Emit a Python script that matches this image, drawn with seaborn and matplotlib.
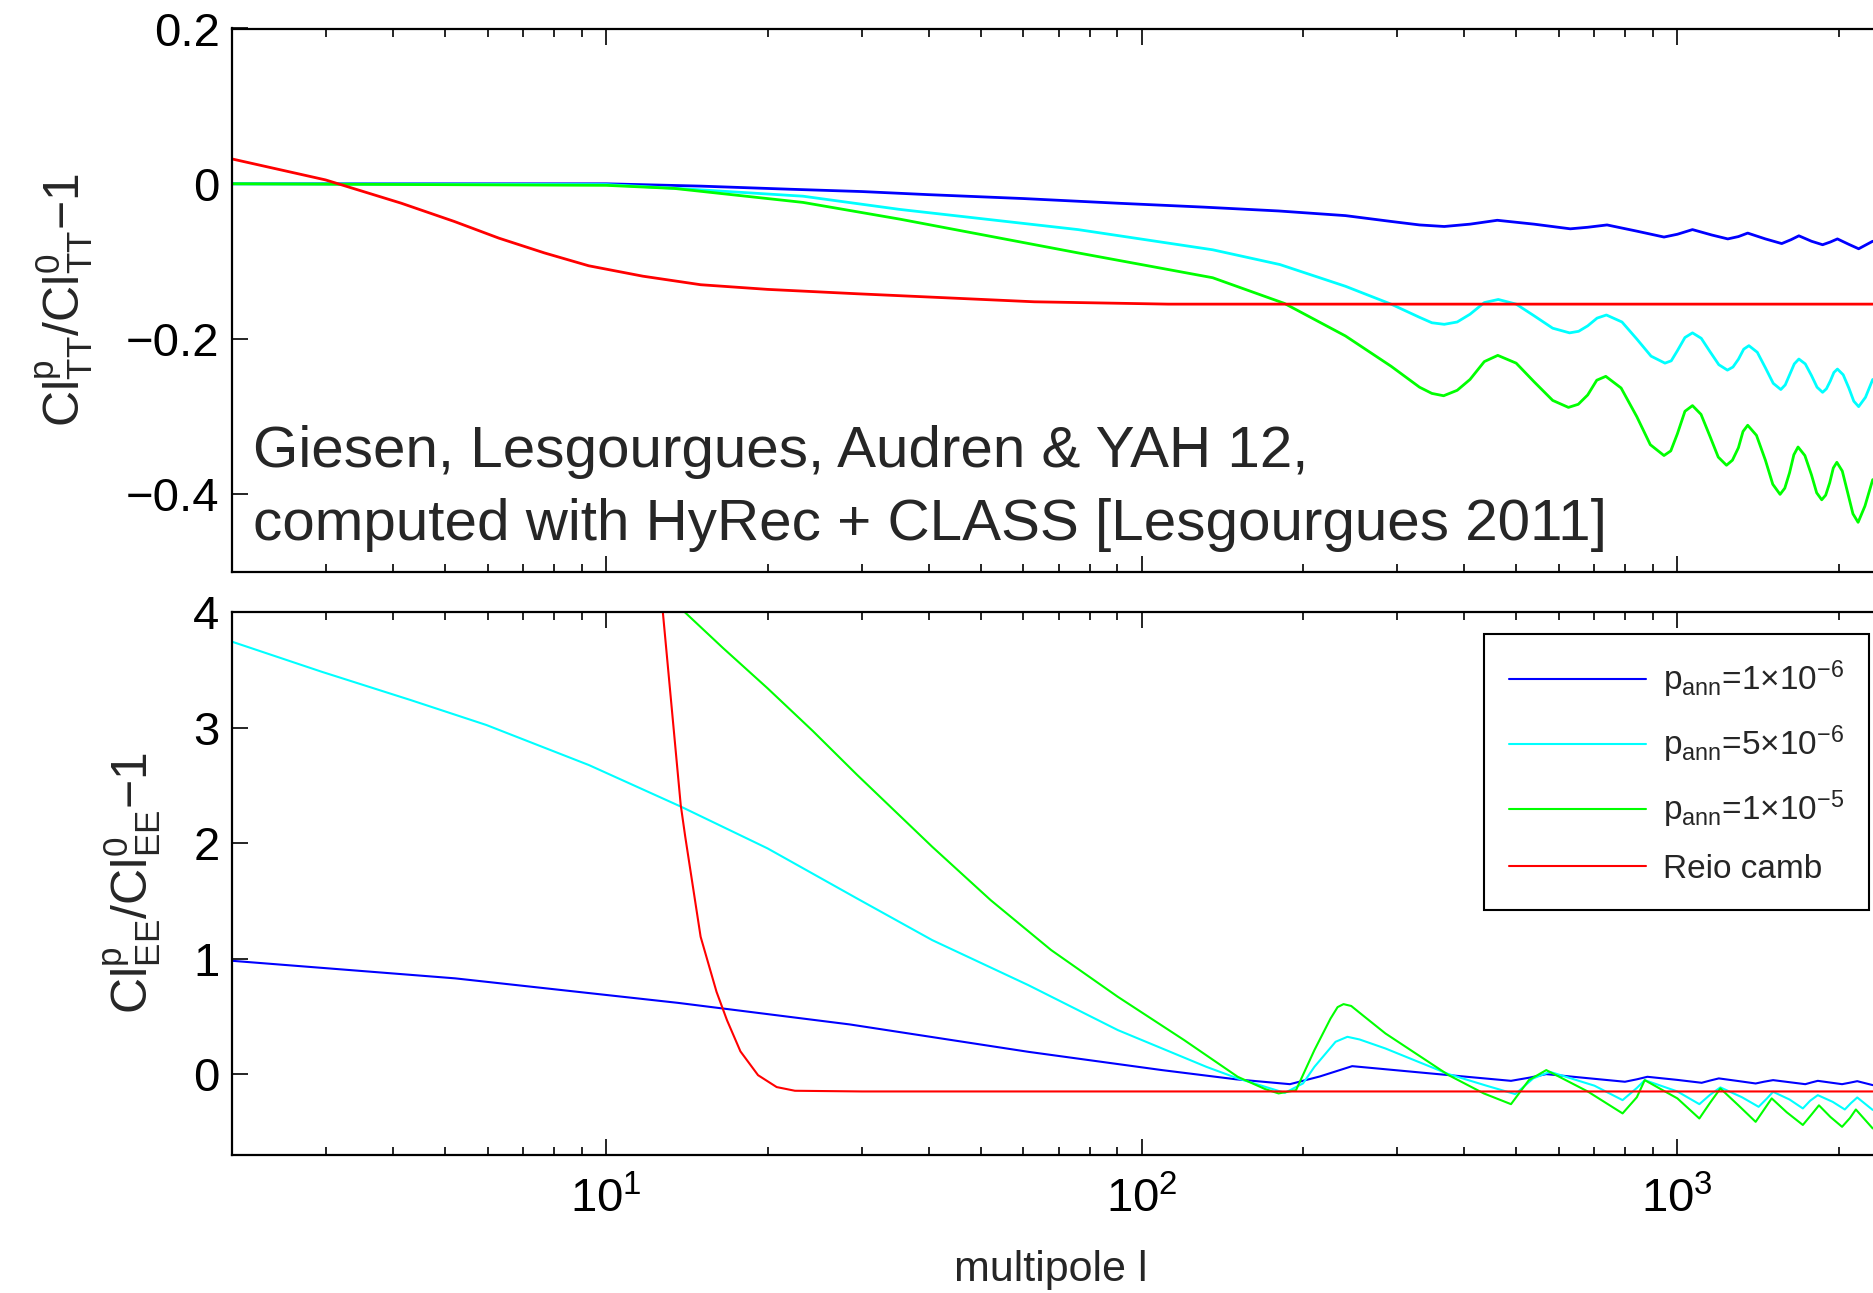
import numpy as np
import pandas as pd
import matplotlib
matplotlib.use("Agg")
import matplotlib.pyplot as plt
import seaborn as sns
from matplotlib.ticker import LogLocator, FuncFormatter, NullFormatter, FixedLocator
from matplotlib.lines import Line2D

# ---------------- data ----------------
series_names = [r"p$_{\mathrm{ann}}$=1×10$^{-6}$",
                r"p$_{\mathrm{ann}}$=5×10$^{-6}$",
                r"p$_{\mathrm{ann}}$=1×10$^{-5}$",
                "Reio camb"]
series_colors = ["#0000ff", "#00ffff", "#00ff00", "#ff0000"]

# Top panel: Cl^p_TT / Cl^0_TT - 1
tt_blue_l = [2, 5, 10, 15, 22, 30, 40, 60, 90, 130, 180, 240, 292, 330, 367, 410, 461, 540, 631, 680,
             739, 840, 944, 1000, 1067, 1160, 1242, 1300, 1353, 1460, 1566, 1630, 1686, 1780, 1867,
             1930, 1990, 2090, 2180, 2316]
tt_blue_v = [0.0, 0.0, 0.0, -0.003, -0.007, -0.010, -0.014, -0.019, -0.025, -0.030,
             -0.035, -0.041, -0.0485, -0.053, -0.055, -0.052, -0.047, -0.052, -0.058, -0.056,
             -0.053, -0.061, -0.0686, -0.065, -0.059, -0.066, -0.071, -0.068, -0.0635, -0.071,
             -0.077, -0.072, -0.067, -0.074, -0.0785, -0.075, -0.071, -0.078, -0.0837, -0.074]

tt_cyan_l = [2, 10, 13.6, 23.3, 35.3, 76, 135.6, 181, 240, 292, 330, 348, 367, 388, 410, 436, 463,
             500, 540, 585, 629, 654, 680, 708, 737, 788, 840, 893, 948, 974, 1000, 1033, 1067,
             1108, 1150, 1195, 1240, 1270, 1300, 1330, 1360, 1410, 1460, 1510, 1560, 1590, 1620,
             1653, 1686, 1733, 1780, 1823, 1867, 1898, 1930, 1960, 1990, 2040, 2090, 2135, 2180,
             2245, 2316]
tt_cyan_v = [0.0, -0.001, -0.006, -0.016, -0.033, -0.059, -0.085, -0.104, -0.132, -0.155,
             -0.172, -0.179, -0.181, -0.178, -0.168, -0.153, -0.149, -0.155, -0.170, -0.186,
             -0.192, -0.190, -0.183, -0.173, -0.169, -0.178, -0.200, -0.222, -0.231, -0.228,
             -0.215, -0.198, -0.192, -0.199, -0.216, -0.233, -0.240, -0.236, -0.226, -0.213,
             -0.2085, -0.217, -0.237, -0.257, -0.265, -0.259, -0.246, -0.232, -0.2257, -0.232,
             -0.247, -0.262, -0.2686, -0.264, -0.254, -0.243, -0.2386, -0.246, -0.263, -0.280,
             -0.287, -0.275, -0.252]

tt_green_l = [2, 10, 13.4, 23.3, 35.3, 76, 135.6, 184.5, 240, 292, 330, 348, 366, 388, 410, 436,
              462, 500, 540, 585, 626, 653, 680, 707, 735, 785, 840, 890, 944, 972, 1000, 1033,
              1067, 1107, 1150, 1192, 1235, 1267, 1300, 1326, 1353, 1405, 1460, 1507, 1555, 1587,
              1620, 1650, 1680, 1730, 1780, 1820, 1860, 1892, 1925, 1955, 1985, 2032, 2080, 2127,
              2175, 2240, 2316]
tt_green_v = [0.0, -0.002, -0.006, -0.024, -0.0455, -0.089, -0.121, -0.154, -0.196, -0.235,
              -0.262, -0.270, -0.273, -0.266, -0.252, -0.229, -0.221, -0.231, -0.255, -0.279,
              -0.288, -0.284, -0.272, -0.253, -0.248, -0.263, -0.300, -0.336, -0.350, -0.344,
              -0.322, -0.293, -0.2857, -0.297, -0.325, -0.352, -0.3625, -0.356, -0.340, -0.319,
              -0.311, -0.324, -0.356, -0.387, -0.400, -0.392, -0.372, -0.349, -0.339, -0.350,
              -0.375, -0.398, -0.407, -0.401, -0.385, -0.366, -0.3587, -0.370, -0.398, -0.425,
              -0.436, -0.415, -0.381]

tt_red_l = [2, 2.99, 4.14, 5.2, 6.3, 7.66, 9.27, 11.7, 15, 20, 29.3, 40.5, 63, 112, 2316]
tt_red_v = [0.032, 0.005, -0.025, -0.0485, -0.070, -0.089, -0.1056, -0.119, -0.130, -0.136,
            -0.1416, -0.146, -0.152, -0.155, -0.155]

# Bottom panel: Cl^p_EE / Cl^0_EE - 1
ee_blue_l = [2, 5.22, 13.6, 28.5, 61.4, 109, 150, 189, 215, 247, 346, 420, 489, 530, 569, 680, 798,
             840, 879, 1000, 1110, 1150, 1195, 1300, 1400, 1450, 1509, 1620, 1733, 1780, 1829, 1930,
             2030, 2100, 2167, 2316]
ee_blue_v = [0.981, 0.829, 0.617, 0.43, 0.193, 0.035, -0.045, -0.087, -0.02, 0.069,
             0.006, -0.03, -0.058, -0.03, 0.0, -0.035, -0.066, -0.045, -0.023, -0.05,
             -0.075, -0.056, -0.037, -0.06, -0.081, -0.066, -0.052, -0.07, -0.087, -0.072,
             -0.058, -0.073, -0.087, -0.074, -0.061, -0.095]

ee_cyan_l = [2, 2.94, 4.31, 5.97, 9.28, 13.8, 20, 29.4, 40.6, 61.4, 90.2, 132, 151, 185, 200, 210,
             230, 242, 255, 285, 374, 440, 498, 538, 578, 700, 790, 840, 869, 1000, 1099, 1150,
             1203, 1320, 1418, 1470, 1509, 1620, 1715, 1770, 1829, 1950, 2054, 2110, 2167, 2316]
ee_cyan_v = [3.743, 3.483, 3.238, 3.022, 2.675, 2.314, 1.954, 1.52, 1.16, 0.77,
             0.381, 0.063, -0.037, -0.162, -0.08, 0.063, 0.28, 0.323, 0.30, 0.222,
             0.0, -0.10, -0.173, -0.037, 0.02, -0.10, -0.225, -0.12, -0.052, -0.15,
             -0.26, -0.18, -0.115, -0.20, -0.283, -0.21, -0.153, -0.22, -0.297, -0.23,
             -0.182, -0.24, -0.306, -0.25, -0.202, -0.31]

ee_green_l = [14.0, 16.5, 20, 24.3, 29.4, 40.6, 52.2, 67.7, 90.2, 120, 151, 170, 180, 194, 210, 225,
              232, 238, 246, 260, 285, 374, 435, 489, 528, 569, 680, 790, 840, 869, 1000, 1099,
              1150, 1203, 1300, 1400, 1450, 1500, 1600, 1715, 1780, 1838, 1930, 2030, 2100, 2154,
              2316]
ee_green_v = [4.0, 3.69, 3.34, 2.97, 2.59, 1.968, 1.506, 1.074, 0.669, 0.294,
              -0.023, -0.13, -0.167, -0.139, 0.208, 0.48, 0.58, 0.606, 0.59, 0.50,
              0.352, -0.009, -0.167, -0.26, -0.052, 0.035, -0.15, -0.34, -0.2, -0.052,
              -0.21, -0.384, -0.25, -0.124, -0.27, -0.413, -0.31, -0.21, -0.33, -0.44,
              -0.35, -0.27, -0.37, -0.456, -0.38, -0.306, -0.47]

ee_red_l = [12.75, 13.77, 14.04, 15.0, 16.06, 16.8, 17.8, 19.2, 20.8, 22.5, 30, 2316]
ee_red_v = [4.0, 2.329, 2.055, 1.189, 0.713, 0.467, 0.197, -0.009, -0.112, -0.144, -0.15, -0.15]

top_yticks = [-0.4, -0.2, 0, 0.2]
bot_yticks = [0, 1, 2, 3, 4]

annotation_lines = ["Giesen, Lesgourgues, Audren & YAH 12,",
                    "computed with HyRec + CLASS [Lesgourgues 2011]"]
top_ylabel = r"$\mathrm{Cl^{p}_{TT}/Cl^{0}_{TT}{-}1}$"
bot_ylabel = r"$\mathrm{Cl^{p}_{EE}/Cl^{0}_{EE}{-}1}$"
xlabel_text = "multipole l"


def long_df(pairs):
    frames = []
    for name, (ls, vs) in zip(series_names, pairs):
        frames.append(pd.DataFrame({"l": ls, "v": vs, "series": name}))
    return pd.concat(frames, ignore_index=True)


df_top = long_df([(tt_blue_l, tt_blue_v), (tt_cyan_l, tt_cyan_v),
                  (tt_green_l, tt_green_v), (tt_red_l, tt_red_v)])
df_bot = long_df([(ee_blue_l, ee_blue_v), (ee_cyan_l, ee_cyan_v),
                  (ee_green_l, ee_green_v), (ee_red_l, ee_red_v)])

# ---------------- style ----------------
sns.set_style("ticks")
plt.rcParams["font.family"] = ["Liberation Sans", "DejaVu Sans"]
plt.rcParams["mathtext.fontset"] = "custom"
plt.rcParams["mathtext.rm"] = "Liberation Sans"
plt.rcParams["mathtext.it"] = "Liberation Sans"
plt.rcParams["mathtext.sf"] = "Liberation Sans"
plt.rcParams["mathtext.bf"] = "Liberation Sans:bold"
plt.rcParams["axes.unicode_minus"] = True

FIG_W, FIG_H = 1873, 1293
fig = plt.figure(figsize=(FIG_W / 100, FIG_H / 100), dpi=100)
fig.patch.set_facecolor("white")

AX_L, AX_R = 232, 1890.5


def px_box(x0, y0, x1, y1):
    return [x0 / FIG_W, 1 - y1 / FIG_H, (x1 - x0) / FIG_W, (y1 - y0) / FIG_H]


ax_top = fig.add_axes(px_box(AX_L, 28.5, AX_R, 572))
ax_bot = fig.add_axes(px_box(AX_L, 612, AX_R, 1155))
AX_W = AX_R - AX_L

palette = dict(zip(series_names, series_colors))
for ax, df, lw, ylim, yt in [(ax_top, df_top, 2.0, (-0.5, 0.2), top_yticks),
                             (ax_bot, df_bot, 1.5, (-0.7, 4.0), bot_yticks)]:
    ax.set_xscale("log")
    sns.lineplot(data=df, x="l", y="v", hue="series", hue_order=series_names,
                 palette=palette, estimator=None, sort=False, linewidth=lw,
                 legend=False, ax=ax)
    ax.set_xlim(2, 2500)
    ax.set_ylim(*ylim)
    ax.set_facecolor("white")
    ax.xaxis.set_major_locator(LogLocator(base=10, numticks=10))
    ax.xaxis.set_minor_locator(LogLocator(base=10, subs=np.arange(2, 10), numticks=20))
    ax.xaxis.set_minor_formatter(NullFormatter())
    ax.yaxis.set_major_locator(FixedLocator(yt))
    ax.yaxis.set_major_formatter(FuncFormatter(lambda v, p: ("%g" % v).replace("-", "\u2212")))
    ax.tick_params(which="both", direction="in", top=True, right=True, width=1.2,
                   colors="black", labelsize=34)
    ax.tick_params(which="major", length=11.5)
    ax.tick_params(which="minor", length=5.8)
    ax.tick_params(axis="y", pad=9)
    ax.tick_params(axis="x", pad=16)
    for sp in ax.spines.values():
        sp.set_linewidth(1.6)
        sp.set_color("black")
    ax.set_xlabel("")
    ax.grid(False)

ax_top.tick_params(axis="x", labelbottom=False)

ax_top.set_ylabel(top_ylabel, fontsize=36)
ax_top.yaxis.set_label_coords((95 - AX_L) / AX_W, 0.5)
ax_bot.set_ylabel(bot_ylabel, fontsize=36)
ax_bot.yaxis.set_label_coords((163 - AX_L) / AX_W, 0.5)

ax_bot.set_xlabel(xlabel_text, fontsize=31)
ax_bot.xaxis.set_label_coords((1051 - AX_L) / AX_W, (1155 - 1250) / (1155 - 612))

TOP_H = 572 - 28.5
ax_top.text((253 - AX_L) / AX_W, (572 - 467) / TOP_H, annotation_lines[0],
            transform=ax_top.transAxes, fontsize=42, ha="left", va="baseline")
ax_top.text((253 - AX_L) / AX_W, (572 - 540) / TOP_H, annotation_lines[1],
            transform=ax_top.transAxes, fontsize=42, ha="left", va="baseline")

handles = [Line2D([], [], color=c, linewidth=1.5) for c in series_colors]
leg = ax_bot.legend(handles, series_names, loc="upper right",
                    bbox_to_anchor=((1869 - AX_L) / AX_W, (1155 - 634) / (1155 - 612)),
                    bbox_transform=ax_bot.transAxes, fontsize=24, frameon=True,
                    fancybox=False, shadow=False, framealpha=1, edgecolor="black",
                    handlelength=4.1, handletextpad=0.5, labelspacing=0.7,
                    borderpad=0.75, borderaxespad=0)
leg.get_frame().set_linewidth(1.5)

fig.savefig("out.png", dpi=100, facecolor="white")
